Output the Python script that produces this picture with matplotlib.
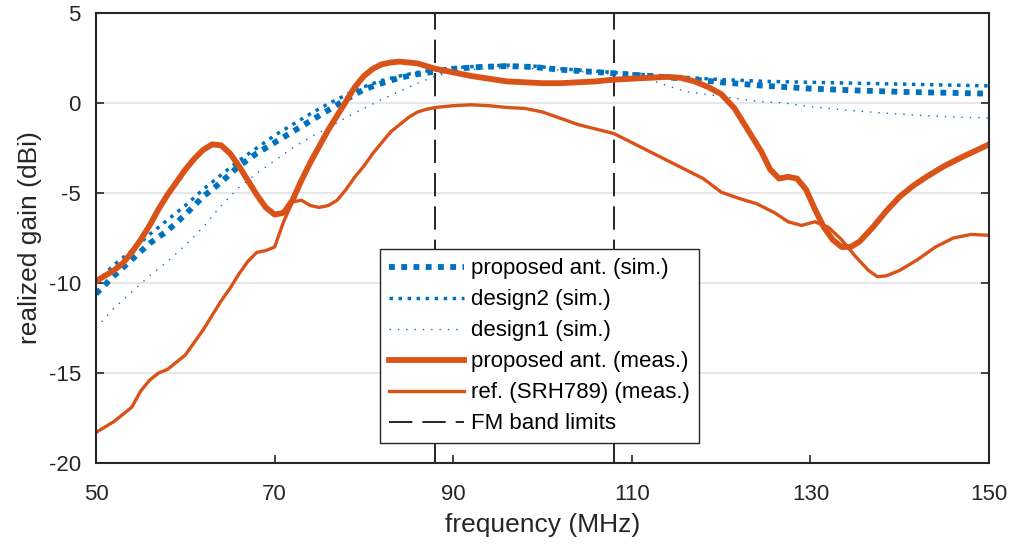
import matplotlib
matplotlib.use("Agg")
import matplotlib.pyplot as plt

# === Data ===
# proposed antenna, measured (thick orange)
f_prop_meas = [50, 51, 52, 53, 54, 55, 56, 57, 58, 59, 60, 61, 62, 63, 64, 65, 66, 67, 68, 69,
               70, 71, 72, 73, 74, 75, 76, 77, 78, 79, 80, 81, 82, 83, 84, 85, 86, 88, 90, 92,
               94, 96, 98, 100, 102, 104, 106, 108, 110, 112, 114, 115.5, 117, 118.5, 120,
               121.5, 123, 124.5, 125.5, 126.5, 127.5, 128.5, 129.5, 130.5, 131.5, 132.5,
               133.5, 134.5, 135.5, 137, 138.5, 140, 141.5, 143, 145, 147, 150]
g_prop_meas = [-9.9, -9.6, -9.3, -8.9, -8.3, -7.6, -6.8, -5.9, -5.1, -4.4, -3.7, -3.1, -2.6, -2.3,
               -2.35, -2.8, -3.5, -4.3, -5.1, -5.8, -6.2, -6.1, -5.4, -4.3, -3.3, -2.4, -1.5,
               -0.7, 0.1, 0.9, 1.5, 1.9, 2.15, 2.25, 2.3, 2.25, 2.2, 1.9, 1.7, 1.5, 1.35, 1.2,
               1.15, 1.1, 1.1, 1.15, 1.2, 1.3, 1.35, 1.4, 1.45, 1.4, 1.2, 0.9, 0.5, -0.3, -1.5,
               -2.7, -3.7, -4.2, -4.1, -4.2, -4.8, -5.9, -6.9, -7.6, -8.0, -8.0, -7.7, -6.9,
               -6.0, -5.2, -4.6, -4.1, -3.5, -3.0, -2.3]

# reference antenna SRH789, measured (thin orange)
f_ref_meas = [50, 51, 52, 53, 54, 55, 56, 57, 58, 59, 60, 61, 62, 63, 64, 65, 66, 67, 68, 69,
              70, 71, 72, 73, 74, 75, 76, 77, 78, 79, 80, 81, 82, 83, 84, 85, 86, 87, 88, 90,
              92, 94, 96, 98, 100, 102, 104, 106, 108, 110, 112, 114, 116, 118, 120, 122, 124,
              126, 127.5, 129, 130.5, 132, 133.5, 135, 136.5, 137.5, 138.5, 140, 142, 144,
              146, 148, 150]
g_ref_meas = [-18.3, -18.0, -17.7, -17.3, -16.9, -16.0, -15.4, -15.0, -14.8, -14.4, -14.0,
              -13.3, -12.6, -11.8, -11.0, -10.3, -9.5, -8.8, -8.3, -8.2, -8.0, -6.6, -5.5,
              -5.4, -5.7, -5.8, -5.7, -5.4, -4.8, -4.1, -3.5, -2.8, -2.2, -1.6, -1.2, -0.8,
              -0.5, -0.35, -0.25, -0.15, -0.1, -0.15, -0.25, -0.3, -0.5, -0.85, -1.2, -1.45,
              -1.7, -2.2, -2.7, -3.2, -3.7, -4.2, -4.95, -5.3, -5.6, -6.1, -6.6, -6.8, -6.6,
              -6.9, -7.6, -8.5, -9.3, -9.65, -9.6, -9.3, -8.7, -8.0, -7.5, -7.3, -7.35]

# simulations (blue dotted)
f_prop_sim = [50, 52, 54, 56, 58, 60, 62, 64, 66, 68, 70, 72, 74, 76, 78, 80, 82, 84, 86, 88,
              90, 93, 96, 99, 102, 105, 108, 112, 116, 120, 125, 130, 135, 140, 145, 150]
g_prop_sim = [-10.6, -9.6, -8.7, -7.8, -7.1, -6.2, -5.2, -4.4, -3.5, -2.8, -2.2, -1.6, -1.0,
              -0.4, 0.2, 0.75, 1.1, 1.4, 1.6, 1.75, 1.9, 2.0, 2.05, 2.0, 1.85, 1.75, 1.65, 1.5,
              1.35, 1.15, 0.95, 0.8, 0.7, 0.62, 0.57, 0.52]

f_design2 = f_prop_sim
g_design2 = [-10.0, -9.0, -8.2, -7.3, -6.5, -5.7, -4.8, -4.0, -3.2, -2.5, -1.8, -1.2, -0.6,
             -0.05, 0.45, 0.9, 1.25, 1.5, 1.7, 1.85, 1.95, 2.05, 2.1, 2.05, 1.9, 1.8, 1.7,
             1.55, 1.42, 1.3, 1.2, 1.15, 1.1, 1.05, 1.0, 0.95]

f_design1 = [50, 52, 54, 56, 58, 60, 62, 64, 66, 68, 70, 72, 74, 76, 78, 80, 82, 84, 86, 88,
             90, 93, 96, 100, 104, 108, 110, 112, 114, 116, 118, 121, 124, 127, 130, 134, 138,
             142, 146, 150]
g_design1 = [-12.5, -11.4, -10.5, -9.6, -8.8, -7.9, -6.9, -5.7, -4.7, -3.9, -3.2, -2.5, -1.9,
             -1.4, -0.8, -0.3, 0.2, 0.65, 1.1, 1.5, 1.75, 1.9, 1.95, 1.9, 1.75, 1.6, 1.5, 1.3,
             0.95, 0.65, 0.5, 0.3, 0.1, 0.0, -0.2, -0.4, -0.55, -0.68, -0.78, -0.83]

fm_band = [88, 108]
x_ticks = [50, 70, 90, 110, 130, 150]
y_ticks = [-20, -15, -10, -5, 0, 5]

blue = '#0072BD'
orange = '#D95319'

plt.rcParams['font.family'] = ['Liberation Sans', 'DejaVu Sans']
plt.rcParams['axes.unicode_minus'] = False

fig = plt.figure(figsize=(10.12, 5.48), dpi=100)
ax = fig.add_axes([0.0949, 0.1551, 0.8824, 0.8212])

ax.plot(f_prop_sim, g_prop_sim, color=blue, lw=4.2, linestyle=(0, (1, 1.1)),
        dash_capstyle='butt', label='proposed ant. (sim.)')
ax.plot(f_design2, g_design2, color=blue, lw=2.5, linestyle=(0, (1, 1.6)),
        dash_capstyle='butt', label='design2 (sim.)')
ax.plot(f_design1, g_design1, color=blue, lw=1.0, linestyle=(0, (1, 5)),
        dash_capstyle='butt', label='design1 (sim.)')
ax.plot(f_prop_meas, g_prop_meas, color=orange, lw=4.2, solid_joinstyle='round',
        label='proposed ant. (meas.)')
ax.plot(f_ref_meas, g_ref_meas, color=orange, lw=2.4, solid_joinstyle='round',
        label='ref. (SRH789) (meas.)')
for i, fb in enumerate(fm_band):
    ax.axvline(fb, color='black', lw=1.2, linestyle=(0, (14, 6)),
               label='FM band limits' if i == 0 else None, zorder=1)

ax.set_xlim(50, 150)
ax.set_ylim(-20, 5)
ax.set_xticks(x_ticks)
ax.set_yticks(y_ticks)
ax.yaxis.grid(True, color='#e3e3e3', lw=1.2)
ax.set_axisbelow(True)
ax.tick_params(direction='in', length=6, width=1.2, labelsize=16, colors='#262626',
               right=True, top=False)
ax.tick_params(axis='y', pad=11)
ax.tick_params(axis='x', pad=15)
for s in ax.spines.values():
    s.set_linewidth(1.5)
    s.set_color('#262626')

ax.set_xlabel('frequency (MHz)', fontsize=19, color='#262626', labelpad=6)
ax.set_ylabel('realized gain (dBi)', fontsize=19, color='#262626', labelpad=5)

leg = ax.legend(loc='lower left', bbox_to_anchor=(0.318, 0.044), fontsize=16,
                handlelength=3.4, handletextpad=0.3, labelspacing=0.45,
                borderpad=0.4, borderaxespad=0, fancybox=False, framealpha=1)
leg.get_frame().set_edgecolor('#262626')
leg.get_frame().set_linewidth(1.0)

fig.savefig('out.png', dpi=100)
